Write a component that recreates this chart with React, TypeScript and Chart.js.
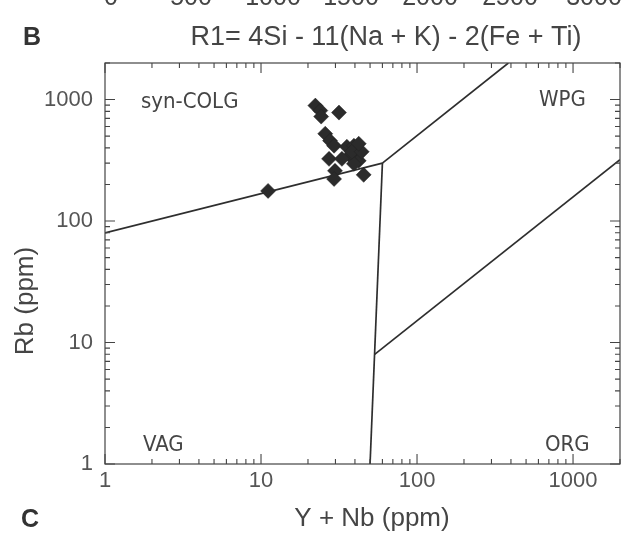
import React, { useEffect, useRef } from "react";
import { Chart, registerables } from "chart.js";

Chart.register(...registerables);

// ---- data ----
const sampleX = [22.3, 24.0, 24.3, 31.6, 25.8, 27.7, 29.4, 27.3, 35.5, 39.4, 41.1, 37.1, 42.3, 39.4, 29.8, 29.4, 45.5, 11.1, 38.2, 44.2, 33.0, 42.3];
const sampleY = [892, 811, 724, 781, 523, 459, 417, 325, 409, 417, 345, 345, 313, 296, 259, 222, 240, 177, 372, 372, 325, 433];

const synColgVagX = [1, 60];
const synColgVagY = [80, 300];
const synColgWpgX = [60, 385];
const synColgWpgY = [300, 2000];
const vagBoundaryX = [60, 50];
const vagBoundaryY = [300, 1];
const orgWpgX = [53.5, 2000];
const orgWpgY = [8, 320];

const majorTicks = [1, 10, 100, 1000];
const topScaleLabels = ["0", "500", "1000", "1500", "2000", "2500", "3000"];
const regionLabels = ["syn-COLG", "WPG", "VAG", "ORG"];

const toXY = (xs: number[], ys: number[]) => xs.map((x, i) => ({ x, y: ys[i] }));

const INK = "#2e2e2e";
const TEXT = "#454545";
const SANS = "'Liberation Sans', Arial, sans-serif";
const NARROW = "'DejaVu Sans Condensed', 'Liberation Sans Narrow', sans-serif";

const decorPlugin = {
  id: "decor",
  afterDraw(chart: any) {
    const { ctx, chartArea: a, scales } = chart;
    const xs = scales.x;
    const ys = scales.y;
    ctx.save();
    // frame
    ctx.strokeStyle = "#444";
    ctx.lineWidth = 1.2;
    ctx.strokeRect(a.left, a.top, a.right - a.left, a.bottom - a.top);
    // inward ticks
    ctx.lineWidth = 1.1;
    ctx.beginPath();
    for (let d = 1; d <= 1000; d *= 10) {
      for (let m = 1; m <= 9; m++) {
        const v = m * d;
        if (v > 2000) continue;
        const len = m === 1 ? 10 : 5;
        const px = xs.getPixelForValue(v);
        ctx.moveTo(px, a.bottom);
        ctx.lineTo(px, a.bottom - len);
        ctx.moveTo(px, a.top);
        ctx.lineTo(px, a.top + len);
        const py = ys.getPixelForValue(v);
        ctx.moveTo(a.left, py);
        ctx.lineTo(a.left + len, py);
        ctx.moveTo(a.right, py);
        ctx.lineTo(a.right - len, py);
      }
    }
    ctx.stroke();

    ctx.fillStyle = TEXT;
    ctx.textBaseline = "alphabetic";
    // partial scale numbers at top (cut off)
    ctx.font = `25px ${SANS}`;
    ctx.textAlign = "center";
    const topX = [111, 191, 273, 351, 430, 510, 594];
    topScaleLabels.forEach((t, i) => ctx.fillText(t, topX[i], 5));

    // panel letters
    ctx.fillStyle = "#333";
    ctx.font = `bold 25px ${SANS}`;
    ctx.textAlign = "left";
    ctx.fillText("B", 23, 45);
    ctx.fillText("C", 21, 527);

    // titles
    ctx.fillStyle = TEXT;
    ctx.font = `27px ${SANS}`;
    ctx.textAlign = "center";
    ctx.fillText("R1= 4Si - 11(Na + K) - 2(Fe + Ti)", 386, 45);
    ctx.font = `26px ${SANS}`;
    ctx.fillText("Y + Nb (ppm)", 372, 526);

    ctx.save();
    ctx.translate(33, 301);
    ctx.rotate(-Math.PI / 2);
    ctx.fillText("Rb (ppm)", 0, 0);
    ctx.restore();

    // region labels
    ctx.font = `22px ${NARROW}`;
    ctx.textAlign = "left";
    ctx.fillText(regionLabels[0], 141, 108);
    ctx.fillText(regionLabels[1], 539, 106);
    ctx.fillText(regionLabels[2], 143, 451);
    ctx.fillText(regionLabels[3], 545, 451);
    ctx.restore();
  },
};

const lineDs = (xs: number[], ys: number[]) => ({
  type: "scatter" as const,
  data: toXY(xs, ys),
  showLine: true,
  fill: false,
  borderColor: INK,
  borderWidth: 1.7,
  pointRadius: 0,
  pointHoverRadius: 0,
});

export default function App() {
  const ref = useRef<HTMLCanvasElement | null>(null);
  useEffect(() => {
    if (!ref.current) return;
    const isMajor = (v: number) => majorTicks.includes(Math.round(v * 1000) / 1000);
    const tickFont = { family: "Liberation Sans", size: 22 };
    const chart = new Chart(ref.current, {
      type: "scatter",
      data: {
        datasets: [
          {
            data: toXY(sampleX, sampleY),
            pointStyle: "rectRot",
            pointRadius: 7.5,
            pointBackgroundColor: "#2b2b2b",
            pointBorderColor: "#222",
            pointBorderWidth: 0.5,
          } as any,
          lineDs(synColgVagX, synColgVagY),
          lineDs(synColgWpgX, synColgWpgY),
          lineDs(vagBoundaryX, vagBoundaryY),
          lineDs(orgWpgX, orgWpgY),
        ],
      },
      options: {
        responsive: false,
        animation: false,
        devicePixelRatio: 1,
        layout: { padding: { top: 63, right: 1, left: 0, bottom: 0 } },
        plugins: { legend: { display: false }, tooltip: { enabled: false } },
        scales: {
          x: {
            type: "logarithmic",
            min: 1,
            max: 2000,
            grid: { display: false, drawTicks: false },
            border: { display: false },
            ticks: {
              autoSkip: false,
              maxRotation: 0,
              padding: 4,
              color: "#555",
              font: tickFont,
              callback: (v: any) => (isMajor(Number(v)) ? String(Number(v)) : ""),
            },
            afterFit: (s: any) => {
              s.height = 69;
            },
          },
          y: {
            type: "logarithmic",
            min: 1,
            max: 2000,
            grid: { display: false, drawTicks: false },
            border: { display: false },
            ticks: {
              autoSkip: false,
              padding: 12,
              color: "#555",
              font: tickFont,
              callback: (v: any) => (isMajor(Number(v)) ? String(Number(v)) : ""),
            },
            afterFit: (s: any) => {
              s.width = 105;
            },
          },
        },
      } as any,
      plugins: [decorPlugin],
    });
    return () => chart.destroy();
  }, []);

  return (
    <div style={{ position: "fixed", left: 0, top: 0, width: 628, height: 533, background: "#fff" }}>
      <canvas ref={ref} width={628} height={533} style={{ width: 628, height: 533, display: "block" }} />
    </div>
  );
}
